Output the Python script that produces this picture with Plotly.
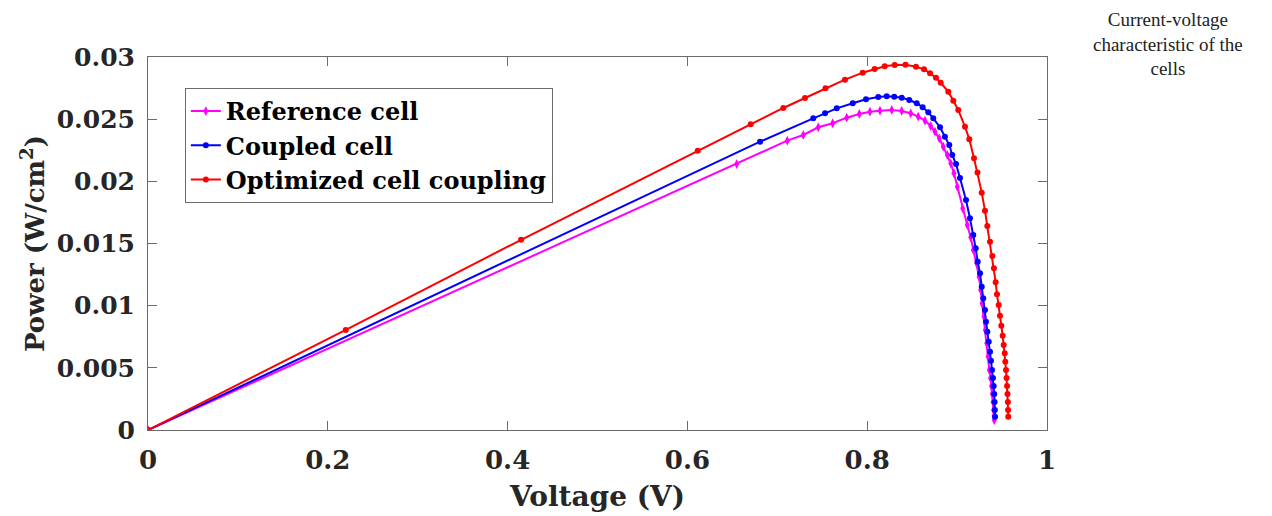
import plotly.graph_objects as go

# Reference cell (magenta)
ref_v = [0.0, 0.6548, 0.7111, 0.7289, 0.7456, 0.7616, 0.7772, 0.7912, 0.8031, 0.8142, 0.8273,
         0.8384, 0.8484, 0.8568, 0.8643, 0.8706, 0.8754, 0.8802, 0.8846, 0.8891, 0.8929, 0.8965,
         0.9002, 0.9062, 0.9113, 0.9151, 0.9180, 0.9218, 0.9244, 0.9262, 0.9277, 0.9299, 0.9314,
         0.9329, 0.9344, 0.9358, 0.9372, 0.9382, 0.9391, 0.9399, 0.9405, 0.9411, 0.9413]
ref_p = [0.0, 0.02139, 0.02327, 0.02373, 0.02435, 0.02467, 0.02512, 0.02542, 0.02560, 0.02568, 0.02574,
         0.02566, 0.02547, 0.02520, 0.02488, 0.02445, 0.02399, 0.02346, 0.02279, 0.02212, 0.02145, 0.02065,
         0.01957, 0.01783, 0.01649, 0.01550, 0.01448, 0.01341, 0.01233, 0.01126, 0.01019, 0.00911, 0.00804,
         0.00697, 0.00590, 0.00483, 0.00418, 0.00354, 0.00290, 0.00225, 0.00161, 0.00113, 0.00080]

# Coupled cell (blue)
cpl_v = [0.0, 0.6808, 0.7400, 0.7531, 0.7661, 0.7839, 0.7987, 0.8123, 0.8217, 0.8301, 0.8384,
         0.8468, 0.8551, 0.8617, 0.8680, 0.8735, 0.8810, 0.8865, 0.8913, 0.8946, 0.8988, 0.9032,
         0.9099, 0.9143, 0.9180, 0.9207, 0.9229, 0.9255, 0.9274, 0.9291, 0.9310, 0.9321, 0.9336,
         0.9352, 0.9366, 0.9377, 0.9388, 0.9399, 0.9407, 0.9413, 0.9417, 0.9420, 0.9422]
cpl_p = [0.0, 0.02319, 0.02507, 0.02547, 0.02587, 0.02628, 0.02660, 0.02678, 0.02684, 0.02681, 0.02673,
         0.02654, 0.02628, 0.02596, 0.02555, 0.02507, 0.02435, 0.02359, 0.02292, 0.02212, 0.02139, 0.02027,
         0.01850, 0.01703, 0.01568, 0.01461, 0.01354, 0.01260, 0.01153, 0.01059, 0.00965, 0.00871, 0.00791,
         0.00710, 0.00630, 0.00557, 0.00483, 0.00418, 0.00354, 0.00290, 0.00225, 0.00161, 0.00107]

# Optimized cell coupling (red)
opt_v = [0.0, 0.2200, 0.4150, 0.6115, 0.6704, 0.7067, 0.7308, 0.7536, 0.7753, 0.7950, 0.8083,
         0.8195, 0.8306, 0.8426, 0.8543, 0.8632, 0.8699, 0.8765, 0.8818, 0.8902, 0.8958, 0.9013,
         0.9088, 0.9136, 0.9188, 0.9227, 0.9274, 0.9310, 0.9336, 0.9366, 0.9392, 0.9410, 0.9429,
         0.9444, 0.9463, 0.9477, 0.9492, 0.9507, 0.9518, 0.9530, 0.9536, 0.9544, 0.9550, 0.9556,
         0.9561, 0.9565, 0.9567, 0.9569]
opt_p = [0.0, 0.00805, 0.01530, 0.02246, 0.02459, 0.02590, 0.02670, 0.02748, 0.02818, 0.02874, 0.02904,
         0.02925, 0.02936, 0.02938, 0.02922, 0.02901, 0.02869, 0.02834, 0.02793, 0.02721, 0.02649, 0.02574,
         0.02439, 0.02338, 0.02185, 0.02071, 0.01909, 0.01764, 0.01641, 0.01515, 0.01400, 0.01301, 0.01188,
         0.01091, 0.01005, 0.00919, 0.00839, 0.00758, 0.00684, 0.00617, 0.00549, 0.00483, 0.00418, 0.00354,
         0.00290, 0.00225, 0.00161, 0.00107]

x_ticks = [0, 0.2, 0.4, 0.6, 0.8, 1]
x_ticklabels = ["0", "0.2", "0.4", "0.6", "0.8", "1"]
y_ticks = [0, 0.005, 0.01, 0.015, 0.02, 0.025, 0.03]
y_ticklabels = ["0", "0.005", "0.01", "0.015", "0.02", "0.025", "0.03"]

FONT = "DejaVu Serif"
AX = "#6b6b6b"

fig = go.Figure()
fig.add_trace(go.Scatter(x=ref_v, y=ref_p, mode="lines+markers", name="Reference cell",
                         line=dict(color="#ff00ff", width=2),
                         marker=dict(symbol="diamond-tall", size=7, color="#ff00ff")))
fig.add_trace(go.Scatter(x=cpl_v, y=cpl_p, mode="lines+markers", name="Coupled cell",
                         line=dict(color="#0000ff", width=2),
                         marker=dict(symbol="circle", size=6, color="#0000ff")))
fig.add_trace(go.Scatter(x=opt_v, y=opt_p, mode="lines+markers", name="Optimized cell coupling",
                         line=dict(color="#ff0000", width=2),
                         marker=dict(symbol="circle", size=6, color="#ff0000")))

fig.update_layout(
    width=1272, height=516,
    margin=dict(l=148, r=225, t=57, b=86),
    paper_bgcolor="white", plot_bgcolor="white",
    font=dict(family=FONT, color="#262626"),
    showlegend=True,
    legend=dict(x=0.041, y=0.917, xanchor="left", yanchor="top",
                bgcolor="white", bordercolor=AX, borderwidth=1,
                font=dict(family=FONT, size=24, color="black", weight="bold"),
                itemwidth=30, tracegroupgap=0),
    annotations=[dict(text="Current-voltage<br>characteristic of the<br>cells",
                      xref="paper", yref="paper", x=1.135, y=1.135,
                      xanchor="center", yanchor="top", showarrow=False,
                      font=dict(family="Liberation Serif", size=19, color="#222"))],
)
fig.update_xaxes(range=[0, 1], tickvals=x_ticks, ticktext=x_ticklabels, automargin=False,
                 showline=True, linecolor=AX, linewidth=1, mirror="ticks",
                 ticks="inside", ticklen=9, tickcolor=AX, showgrid=False, zeroline=False,
                 ticklabelstandoff=7,
                 tickfont=dict(family=FONT, size=26, color="#262626", weight="bold"),
                 title=dict(text="Voltage (V)", standoff=12,
                            font=dict(family=FONT, size=28, color="#262626", weight="bold")))
fig.update_yaxes(range=[0, 0.03], tickvals=y_ticks, ticktext=y_ticklabels, automargin=False,
                 showline=True, linecolor=AX, linewidth=1, mirror="ticks",
                 ticks="inside", ticklen=9, tickcolor=AX, showgrid=False, zeroline=False,
                 ticklabelstandoff=7,
                 tickfont=dict(family=FONT, size=25, color="#262626", weight="bold"),
                 title=dict(text="Power (W/cm<sup>2</sup>)", standoff=4,
                            font=dict(family=FONT, size=26, color="#262626", weight="bold")))

fig.write_html("out.html")
